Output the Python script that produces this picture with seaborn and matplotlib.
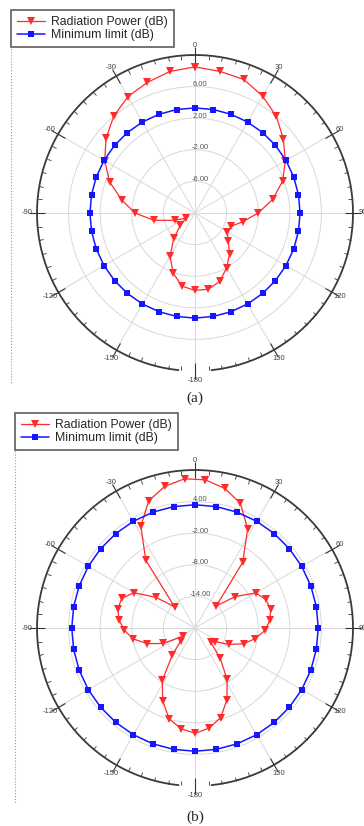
import numpy as np
import pandas as pd
import seaborn as sns
import matplotlib.pyplot as plt
from matplotlib.lines import Line2D
from matplotlib.transforms import offset_copy

# panel (a): radiation power every 10 deg, dB
ang_a = np.arange(0, 360, 10)
red_a = [8.5, 8.2, 8.0, 7.1, 6.0, 4.6, 3.2, 1.8, 0.0, -2.0,
         -3.8, -5.1, -5.3, -4.5, -3.2, -2.0, -0.8, -0.2, -0.2, -0.6,
         -1.9, -3.7, -5.8, -7.6, -8.7, -7.3, -4.7, -2.4, -0.6, 1.5,
         3.2, 4.7, 6.0, 7.0, 7.6, 8.2]
blue_a = [3.3, 3.3, 3.3, 3.3, 3.3, 3.3, 3.3, 3.3, 3.3, 3.3,
          3.3, 3.3, 3.3, 3.3, 3.3, 3.3, 3.3, 3.3, 3.3, 3.3,
          3.3, 3.3, 3.3, 3.3, 3.3, 3.3, 3.3, 3.3, 3.3, 3.3,
          3.3, 3.3, 3.3, 3.3, 3.3, 3.3]
rings_a = [-6, -2, 2, 6]
ring_labels_a = ['-6.00', '-2.00', '2.00', '6.00']

# panel (b): radiation power every 8 deg (starting at 4), limit every 10 deg
ang_b = np.arange(4, 360, 8)
red_b = [8.2, 7.1, 5.2, 1.3, -4.6, -14.2, -10.3, -6.7, -5.5, -5.2,
         -5.7, -6.7, -8.4, -10.3, -12.9, -15.4, -16.0, -12.6, -8.5, -5.1,
         -2.3, -0.8, 0.0, -0.7, -2.1, -4.9, -8.3, -13.3, -16.4, -17.2,
         -13.3, -10.4, -8.1, -6.6, -5.5, -4.9, -5.0, -6.6, -10.5, -14.4,
         -4.1, 1.9, 5.7, 7.5, 8.4]
ang_b_lim = np.arange(0, 360, 10)
blue_b = [3.4, 3.4, 3.4, 3.4, 3.4, 3.4, 3.4, 3.4, 3.4, 3.4,
          3.4, 3.4, 3.4, 3.4, 3.4, 3.4, 3.4, 3.4, 3.4, 3.4,
          3.4, 3.4, 3.4, 3.4, 3.4, 3.4, 3.4, 3.4, 3.4, 3.4,
          3.4, 3.4, 3.4, 3.4, 3.4, 3.4]
rings_b = [-14, -8, -2, 4]
ring_labels_b = ['-14.00', '-8.00', '-2.00', '4.00']

theta_ticks = [0, 30, 60, 90, 120, 150, 180, 210, 240, 270, 300, 330]
theta_labels = ['0', '30', '60', '90', '120', '150', '-180', '-150', '-120', '-90', '-60', '-30']

sns.set_style('ticks')
plt.rcParams['font.family'] = ['Liberation Sans', 'DejaVu Sans']

W, H = 364, 826
fig = plt.figure(figsize=(W / 100, H / 100), dpi=100)


def closed(ang, r):
    df = pd.DataFrame({'theta': np.radians(list(ang) + [ang[0] + 360]),
                       'r': list(r) + [r[0]]})
    return df


def panel(cy, ang_r, red, ang_l, blue, rmin, rmax, rings, ring_labels,
          leg_x, leg_y, line_y0, line_y1, cap, cap_y):
    R = 158
    ax = fig.add_axes([(195 - R) / W, 1 - (cy + R) / H, 2 * R / W, 2 * R / H], projection='polar')
    ax.set_theta_zero_location('N')
    ax.set_theta_direction(-1)
    ax.set_ylim(rmin, rmax)

    sns.lineplot(data=closed(ang_r, red), x='theta', y='r', ax=ax, sort=False, estimator=None,
                 color='#ff2a2a', lw=0.9, marker='v', markersize=6, mec='#ff2a2a', mew=0,
                 label='Radiation Power (dB)')
    sns.lineplot(data=closed(ang_l, blue), x='theta', y='r', ax=ax, sort=False, estimator=None,
                 color='#1515ff', lw=1.1, marker='s', markersize=3.8, mec='#1515ff', mew=0,
                 label='Minimum limit (dB)')

    ax.set_xlabel('')
    ax.set_ylabel('')
    ax.set_xticks(np.radians(theta_ticks))
    ax.set_xticklabels(theta_labels, fontsize=5.5, color='#444')
    ax.set_xticks(np.radians(np.arange(0, 360, 5)), minor=True)
    ax.tick_params(axis='x', which='both', bottom=False, top=True)
    ax.tick_params(axis='x', which='major', direction='inout', length=6, width=0.8,
                   color='#333', pad=-3)
    ax.tick_params(axis='x', which='minor', direction='in', length=3, width=0.6,
                   color='#333')
    ax.set_yticks(rings)
    ax.set_yticklabels([])
    ax.tick_params(axis='y', length=0)
    ax.grid(True, color='#d8d8d8', lw=0.7)
    ax.spines['polar'].set_visible(False)

    # outer frame with a gap at the bottom
    arc = np.radians(np.linspace(-174, 174, 400))
    ax.plot(arc, np.full(arc.size, rmax), color='#3a3a3a', lw=1.3, clip_on=False)

    tr = offset_copy(ax.transData, fig=fig, x=5, y=2, units='dots')
    for r, lab in zip(rings, ring_labels):
        ax.text(0, r, lab, transform=tr, ha='center', va='center', fontsize=5.5, color='#555')

    ax.legend(loc='upper left', bbox_to_anchor=(leg_x / W, 1 - leg_y / H),
              bbox_transform=fig.transFigure, frameon=True, fancybox=False,
              edgecolor='#333', fontsize=8.8, borderaxespad=0, handlelength=2.3,
              labelspacing=0.1, borderpad=0.5, handletextpad=0.5)
    ax.get_legend().get_frame().set_linewidth(1.2)

    fig.add_artist(Line2D([leg_x / W, leg_x / W], [1 - line_y0 / H, 1 - line_y1 / H],
                          transform=fig.transFigure, color='#999', lw=0.8, ls=':'))
    fig.text(195 / W, 1 - cap_y / H, cap, ha='center', va='center',
             family='Liberation Serif', fontsize=11)
    return ax


panel(213, ang_a, red_a, ang_a, blue_a, -10, 10, rings_a, ring_labels_a,
      11, 10, 49, 384, '(a)', 398)
panel(628, ang_b, red_b, ang_b_lim, blue_b, -20, 10, rings_b, ring_labels_b,
      15, 413, 451, 803, '(b)', 817)

fig.savefig('out.png', dpi=100)
